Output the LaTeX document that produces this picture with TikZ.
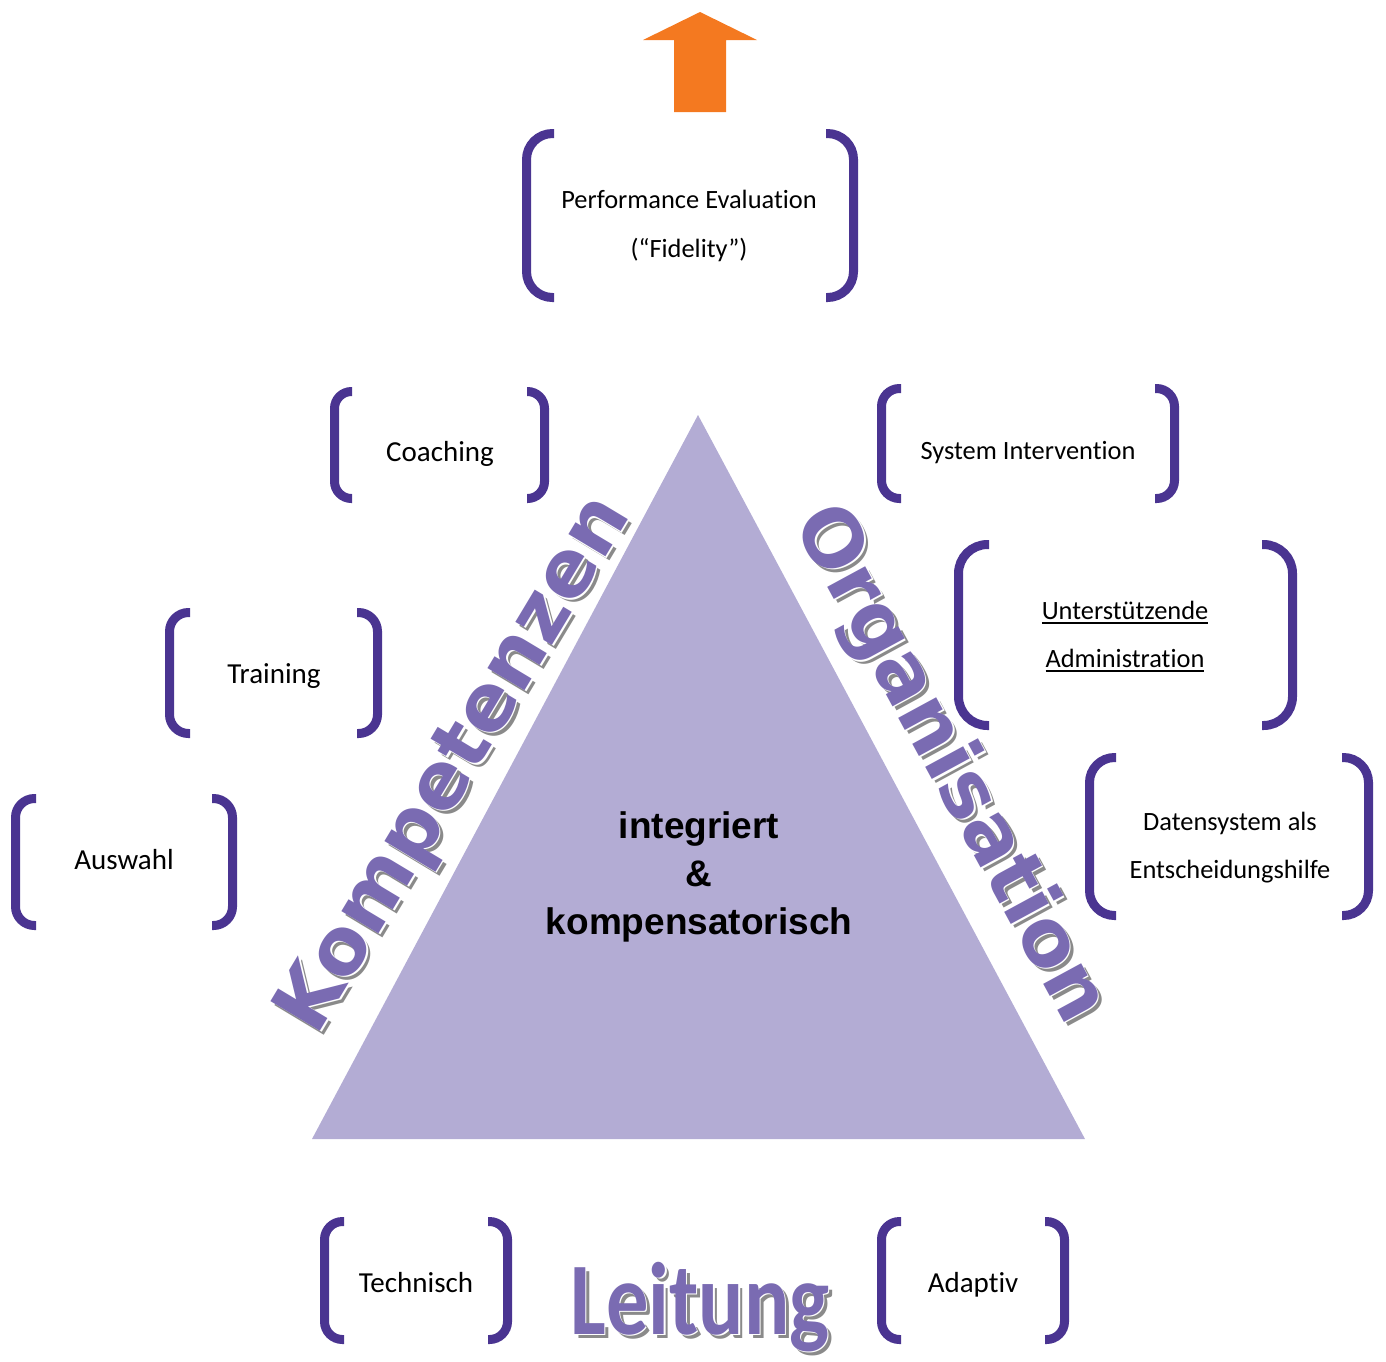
\documentclass[tikz,border=0pt]{standalone}
\usepackage{fontspec}
\setmainfont{Carlito}[Ligatures=NoCommon]
\newfontfamily\wordartfont{DejaVu Sans}
\newfontfamily\headfont{Liberation Sans}
\definecolor{trifill}{HTML}{B3ACD4}
\definecolor{brkcol}{HTML}{4A3491}
\definecolor{artcol}{HTML}{7A6BB2}
\definecolor{artshadow}{HTML}{8A8A8A}
\definecolor{arrowcol}{HTML}{F47920}

% one pair of round brackets: outer box x1 y1 x2 y2, arm length, corner radius
\newcommand\bracketpair[6]{%
  \draw[bracket, rounded corners=#6pt]
    ({#1+#5},{#2+4.5}) -- ({#1+4.5},{#2+4.5}) -- ({#1+4.5},{#4-4.5}) -- ({#1+#5},{#4-4.5});
  \draw[bracket, rounded corners=#6pt]
    ({#3-#5},{#2+4.5}) -- ({#3-4.5},{#2+4.5}) -- ({#3-4.5},{#4-4.5}) -- ({#3-#5},{#4-4.5});
}
% underlined label with a rule of fixed weight
\newcommand\ulinetext[1]{\sbox0{#1}\rlap{\rule[-4.8pt]{\wd0}{2pt}}\usebox0}

\begin{document}
\begin{tikzpicture}[x=1pt,y=-1pt,
  bracket/.style={draw=brkcol, line width=9pt},
  lbl/.style={font=\fontsize{26.4}{30}\selectfont, anchor=base, inner sep=0pt},
  lblbig/.style={font=\fontsize{29}{33}\selectfont, anchor=base, inner sep=0pt},
  centertext/.style={font=\headfont\bfseries\fontsize{37}{40}\selectfont, anchor=base, inner sep=0pt},
  art/.style={font=\wordartfont\bfseries\fontsize{79}{88}\selectfont, anchor=base, inner sep=0pt},
  leitart/.style={font=\bfseries\fontsize{103}{112}\selectfont, xscale=0.82, anchor=base, inner sep=0pt},
  artshade/.style={text=artshadow},
  artedge/.style={text=white},
  artmain/.style={text=artcol},
]
\useasboundingbox (0,0) rectangle (1386,1361);

% upward arrow
\fill[arrowcol] (700,12) -- (757,40) -- (726,40) -- (726,112) -- (674,112) -- (674,40) -- (643,40) -- cycle;

% central triangle
\fill[trifill] (698,415) -- (1085,1139) -- (312,1139) -- cycle;

% bracket pairs
\bracketpair{522}{129}{858}{302}{32}{26}
\bracketpair{330}{387}{549}{503}{22}{17}
\bracketpair{165}{608}{382}{738}{25}{19}
\bracketpair{11}{794}{237}{930}{25}{19}
\bracketpair{877}{384}{1179}{503}{24}{18}
\bracketpair{954}{540}{1297}{730}{35}{29}
\bracketpair{1085}{753}{1373}{920}{31}{25}
\bracketpair{320}{1217}{512}{1344}{24}{18}
\bracketpair{877}{1217}{1069}{1344}{24}{18}

% bracket labels
\node[lbl] (perf1) at (689,208) {Performance Evaluation};
\node[lbl] (perf2) at (689,257) {(“Fidelity”)};
\node[lblbig] (coach) at (440,461) {Coaching};
\node[lblbig] (train) at (274,683) {Training};
\node[lblbig] (ausw) at (124,869) {Auswahl};
\node[lbl] (sysint) at (1028,459) {System Intervention};
\node[lbl] (admin1) at (1125,619) {\ulinetext{Unterstützende}};
\node[lbl] (admin2) at (1125,667) {\ulinetext{Administration}};
\node[lbl] (daten1) at (1230,830) {Datensystem als};
\node[lbl] (daten2) at (1230,878) {Entscheidungshilfe};
\node[lblbig] (tech) at (416,1292) {Technisch};
\node[lblbig] (adapt) at (973,1292) {Adaptiv};

% text inside the triangle
\node[centertext] (mid1) at (699,838) {integriert};
\node[centertext] (mid2) at (699,886) {\&};
\node[centertext] (mid3) at (699,934) {kompensatorisch};

% word-art side labels with drop shadow
\coordinate (kp) at (474,776);
\coordinate (og) at (930,775);
\node[art, artshade, rotate=59] (kompS) at ([shift={(4,4)}]kp) {Kompetenzen};
\node[art, artedge, rotate=59] (kompE) at ([shift={(1.4,1.4)}]kp) {Kompetenzen};
\node[art, artmain, rotate=59] (komp) at (kp) {Kompetenzen};
\node[art, artshade, rotate=-61.5] (orgS) at ([shift={(4,4)}]og) {Organisation};
\node[art, artedge, rotate=-61.5] (orgE) at ([shift={(1.4,1.4)}]og) {Organisation};
\node[art, artmain, rotate=-61.5] (org) at (og) {Organisation};

% bottom word-art label
\coordinate (lt) at (700,1334);
\node[leitart, artshade] (leitS) at ([shift={(4,4)}]lt) {Leitung};
\node[leitart, artedge] (leitE) at ([shift={(1.4,1.4)}]lt) {Leitung};
\node[leitart, artmain] (leit) at (lt) {Leitung};
\end{tikzpicture}
\end{document}
